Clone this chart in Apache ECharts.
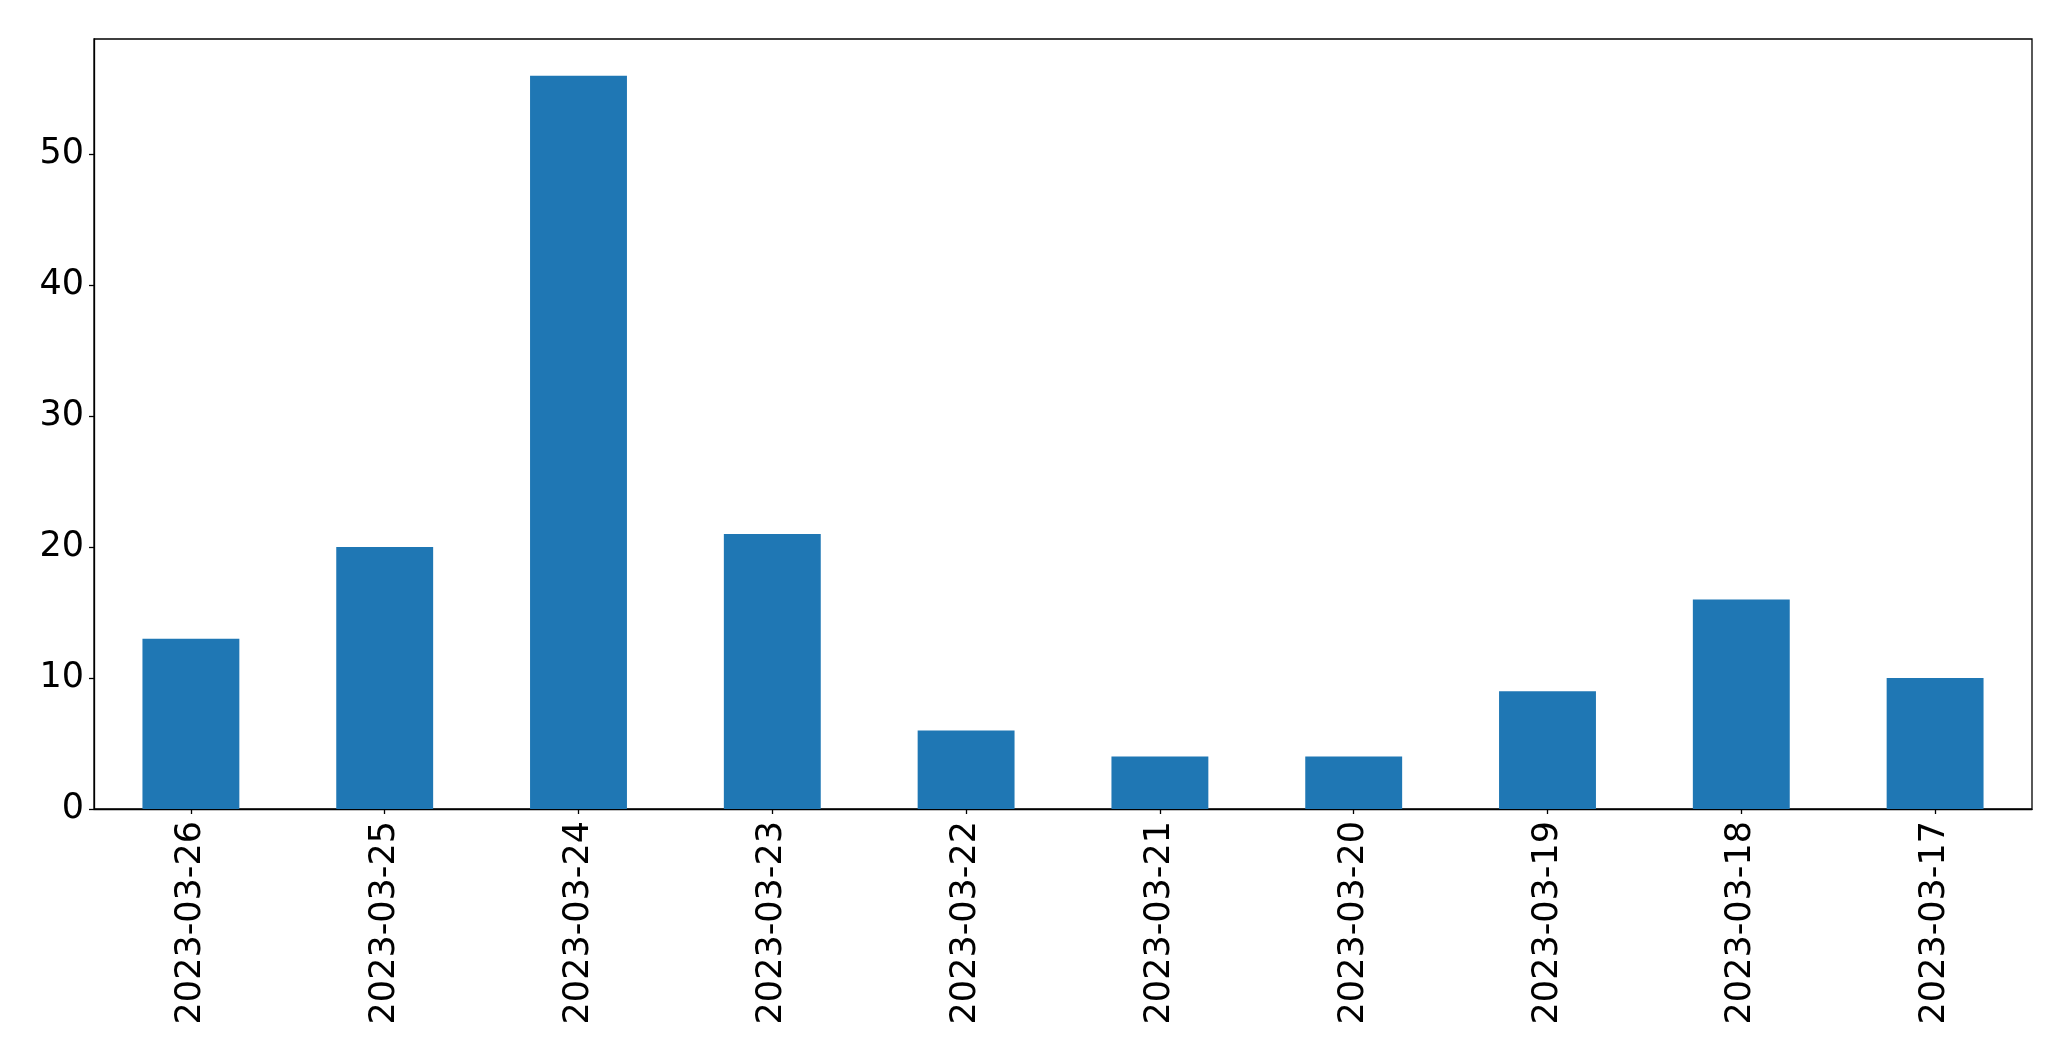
<!DOCTYPE html>
<html>
<head>
<meta charset="utf-8">
<script src="https://cdn.jsdelivr.net/npm/echarts@6/dist/echarts.min.js"></script>
<style>
html,body{margin:0;padding:0;background:#fff;}
#chart{width:2071px;height:1061px;}
</style>
</head>
<body>
<div id="chart"></div>
<script>
const categories = ['2023-03-26','2023-03-25','2023-03-24','2023-03-23','2023-03-22','2023-03-21','2023-03-20','2023-03-19','2023-03-18','2023-03-17'];
const values = [13, 20, 56, 21, 6, 4, 4, 9, 16, 10];
const yTicks = [0, 10, 20, 30, 40, 50];

const chart = echarts.init(document.getElementById('chart'), null, {renderer: 'canvas'});
const font = 'DejaVu Sans';
chart.setOption({
  animation: false,
  backgroundColor: '#ffffff',
  grid: {
    left: 94, right: 39, top: 39, bottom: 252,
    show: true, borderColor: '#000', borderWidth: 1.3, backgroundColor: 'transparent'
  },
  xAxis: {
    type: 'category',
    data: categories,
    axisLine: {show: true, lineStyle: {color: '#000', width: 1.3}},
    axisTick: {show: true, alignWithLabel: true, length: 5, lineStyle: {color: '#000', width: 1.3}},
    axisLabel: {rotate: 90, color: '#000', fontFamily: font, fontSize: 35, margin: 12, interval: 0}
  },
  yAxis: {
    type: 'value',
    min: 0,
    max: 58.8,
    interval: 10,
    axisLine: {show: true, lineStyle: {color: '#000', width: 1.3}},
    axisTick: {show: true, length: 5, lineStyle: {color: '#000', width: 1.3}},
    splitLine: {show: false},
    axisLabel: {
      color: '#000', fontFamily: font, fontSize: 35, margin: 10,
      showMaxLabel: false,
      formatter: function (v) { return yTicks.indexOf(v) >= 0 ? String(v) : ''; }
    }
  },
  series: [{
    type: 'bar',
    data: values,
    barWidth: '50%',
    itemStyle: {color: '#1f77b4'}
  }]
});
</script>
</body>
</html>
